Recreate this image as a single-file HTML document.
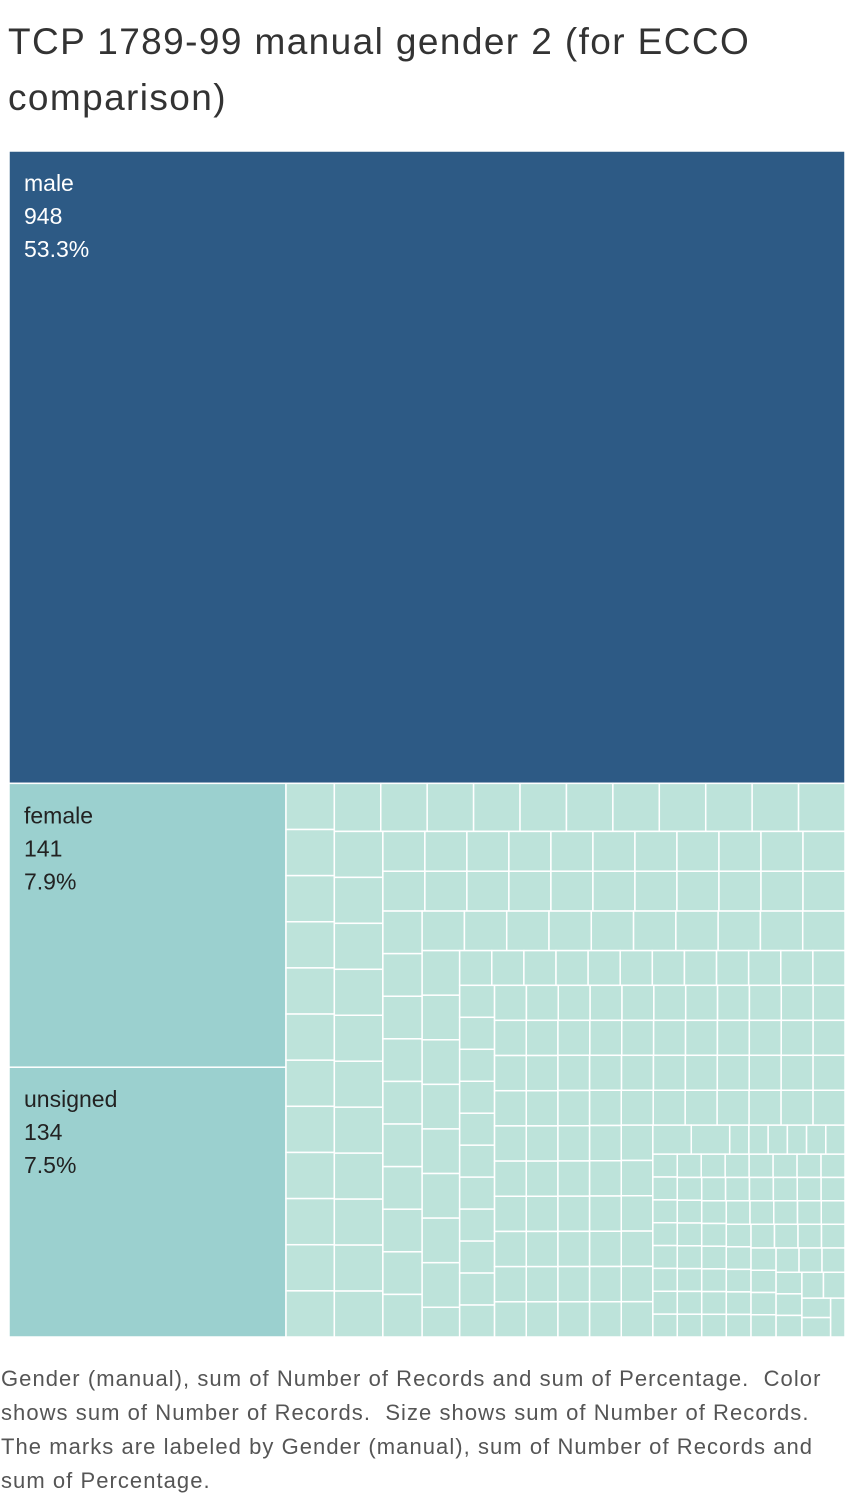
<!DOCTYPE html>
<html><head><meta charset="utf-8"><style>
body{margin:0;background:#fff;width:854px;height:1498px;overflow:hidden;font-family:"Liberation Sans",sans-serif;}
#title{position:absolute;left:8px;top:14px;font-size:37px;line-height:56px;color:#333;width:845px;letter-spacing:1.4px}
#caption{position:absolute;left:1px;top:1362px;font-size:22px;line-height:34px;color:#555;width:852px;letter-spacing:1.05px}
svg{position:absolute;left:0;top:0}
</style></head><body>
<div id="title">TCP 1789-99 manual gender 2 (for ECCO comparison)</div>
<svg id="chart" width="854" height="1498"></svg>
<div id="caption">Gender (manual), sum of Number of Records and sum of Percentage.&nbsp; Color shows sum of Number of Records.&nbsp; Size shows sum of Number of Records.&nbsp; The marks are labeled by Gender (manual), sum of Number of Records and sum of Percentage.</div>
<script>
const labeledNames = ["male","female","unsigned"];
const labeledValues = [948,141,134];
const labeledPct = ["53.3%","7.9%","7.5%"];
const smallCounts = [34,50,100,69];   // number of small cells with value 4,3,2,1
const smallValues = [4,3,2,1];

const items=[];
labeledNames.forEach((n,i)=>items.push({name:n,v:labeledValues[i],pct:labeledPct[i]}));
smallValues.forEach((v,i)=>{for(let k=0;k<smallCounts[i];k++)items.push({name:"",v:v});});
items.sort((a,b)=>b.v-a.v);

const X0=9,Y0=151,W=836,H=1186;
const total=items.reduce((s,d)=>s+d.v,0);
const scale=W*H/total;
function worst(row,side){const s=row.reduce((a,d)=>a+d.a,0);let mx=0,mn=1e9;row.forEach(d=>{mx=Math.max(mx,d.a);mn=Math.min(mn,d.a)});return Math.max(side*side*mx/(s*s),s*s/(side*side*mn));}
let rect={x:X0,y:Y0,w:W,h:H};
const nodes=items.map(d=>({...d,a:d.v*scale}));
let i=0;
while(i<nodes.length){
  const side=Math.min(rect.w,rect.h);
  let row=[nodes[i]];i++;
  while(i<nodes.length){const nr=row.concat([nodes[i]]);if(worst(nr,side)<=worst(row,side)){row=nr;i++;}else break;}
  const s=row.reduce((a,d)=>a+d.a,0);
  if(rect.w>=rect.h){
    const cw=s/rect.h;let y=rect.y;
    row.forEach(d=>{const h=d.a/cw;d.x=rect.x;d.y=y;d.w=cw;d.h=h;y+=h;});
    rect={x:rect.x+cw,y:rect.y,w:rect.w-cw,h:rect.h};
  }else{
    const rh=s/rect.w;let x=rect.x;
    row.forEach(d=>{const w=d.a/rh;d.x=x;d.y=rect.y;d.w=w;d.h=rh;x+=w;});
    rect={x:rect.x,y:rect.y+rh,w:rect.w,h:rect.h-rh};
  }
}
const svg=document.getElementById('chart');const NS="http://www.w3.org/2000/svg";
function color(v){return v>=500?"#2d5a85":(v>=50?"#9bd0cf":"#bde3da");}
nodes.forEach((d,k)=>{
  const r=document.createElementNS(NS,'rect');
  r.setAttribute('x',d.x);r.setAttribute('y',d.y);r.setAttribute('width',d.w);r.setAttribute('height',d.h);
  r.setAttribute('fill',color(d.v));r.setAttribute('stroke','#fff');r.setAttribute('stroke-width','1.5');
  
  
  svg.appendChild(r);
  if(d.name){
    const lines=[d.name,String(d.v),d.pct];
    lines.forEach((t,j)=>{
      const tx=document.createElementNS(NS,'text');
      tx.setAttribute('x',d.x+15);tx.setAttribute('y',d.y+40+j*33);
      tx.setAttribute('font-size','23');tx.setAttribute('font-family','Liberation Sans, sans-serif');
      tx.setAttribute('fill',d.v>=500?'#fff':'#222');
      tx.textContent=t;
      
      
      svg.appendChild(tx);
    });
  }
});
</script>
</body></html>
